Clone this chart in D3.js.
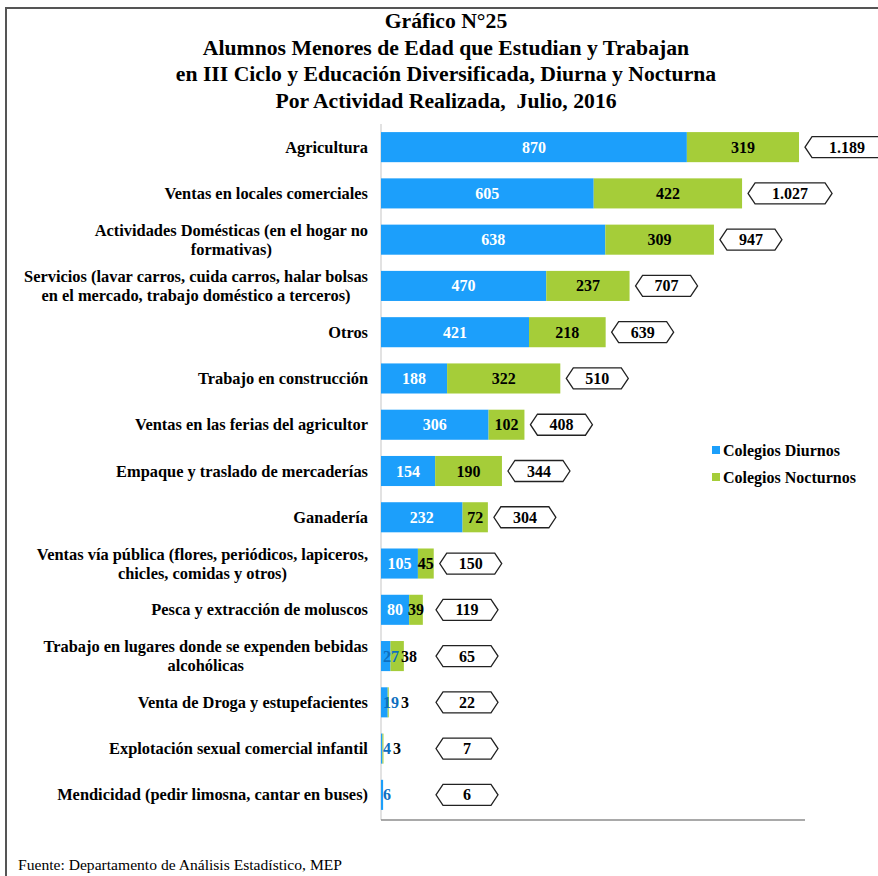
<!DOCTYPE html>
<html><head><meta charset="utf-8">
<script src="https://cdn.jsdelivr.net/npm/d3@7"></script>
<style>
html,body{margin:0;padding:0;background:#fff;}
svg{display:block;}
text{font-family:"Liberation Serif","Times New Roman",serif;}
</style></head>
<body>
<svg id="chart" width="878" height="876"></svg>
<script>
const titleLines = [
  "Gráfico N°25",
  "Alumnos Menores de Edad que Estudian y Trabajan",
  "en III Ciclo y Educación Diversificada, Diurna y Nocturna",
  "Por Actividad Realizada,  Julio, 2016"
];
const categories = [
  "Agricultura",
  "Ventas en locales comerciales",
  "Actividades Domésticas (en el hogar no\nformativas)",
  "Servicios (lavar carros, cuida carros, halar bolsas\nen el mercado, trabajo doméstico a terceros)",
  "Otros",
  "Trabajo en construcción",
  "Ventas en las ferias del agricultor",
  "Empaque y traslado de mercaderías",
  "Ganadería",
  "Ventas vía pública (flores, periódicos, lapiceros,\nchicles, comidas y otros)",
  "Pesca y extracción de moluscos",
  "Trabajo en lugares donde se expenden bebidas\nalcohólicas",
  "Venta de Droga y estupefacientes",
  "Explotación sexual comercial infantil",
  "Mendicidad (pedir limosna, cantar en buses)"
];
const diurnos   = [870, 605, 638, 470, 421, 188, 306, 154, 232, 105, 80, 27, 19, 4, 6];
const nocturnos = [319, 422, 309, 237, 218, 322, 102, 190, 72, 45, 39, 38, 3, 3, 0];
const totals    = [1189, 1027, 947, 707, 639, 510, 408, 344, 304, 150, 119, 65, 22, 7, 6];
const seriesNames = ["Colegios Diurnos", "Colegios Nocturnos"];
const seriesColors = ["#1C9FFB", "#A5CD39"];
const sourceNote = "Fuente: Departamento de Análisis Estadístico, MEP";

const fmt = d3.formatLocale({decimal: ",", thousands: ".", grouping: [3], currency: ["", ""]}).format(",d");

const svg = d3.select("#chart");

// frame
svg.append("rect").attr("x", 6).attr("y", 8).attr("width", 900).attr("height", 900)
  .attr("fill", "#fff").attr("stroke", "#555").attr("stroke-width", 2);

// title
svg.append("g").selectAll("text").data(titleLines).join("text")
  .attr("x", 446).attr("y", (d, i) => 28 + i * 26.6)
  .attr("text-anchor", "middle").attr("font-size", 21.7).attr("font-weight", "bold")
  .attr("fill", "#000").attr("xml:space", "preserve").style("white-space", "pre").text(d => d);

const x = d3.scaleLinear().domain([0, 1206]).range([381, 805]);
const y = d3.scaleBand().domain(categories).range([124, 818]).paddingInner(0.35).paddingOuter(0.175);

// axes lines
svg.append("line").attr("x1", x(0)).attr("x2", x(0)).attr("y1", 124).attr("y2", 820)
  .attr("stroke", "#d9d9d9").attr("stroke-width", 1.5);
svg.append("line").attr("x1", x(0)).attr("x2", x.range()[1]).attr("y1", 820).attr("y2", 820)
  .attr("stroke", "#8c8c8c").attr("stroke-width", 1.5);

const rows = categories.map((c, i) => ({cat: c, d: diurnos[i], n: nocturnos[i], t: totals[i]}));

const g = svg.append("g");
// bars
g.selectAll("rect.d").data(rows).join("rect").attr("class", "d")
  .attr("x", x(0)).attr("y", r => y(r.cat)).attr("height", y.bandwidth())
  .attr("width", r => x(r.d) - x(0)).attr("fill", seriesColors[0]);
g.selectAll("rect.n").data(rows).join("rect").attr("class", "n")
  .attr("x", r => x(r.d)).attr("y", r => y(r.cat)).attr("height", y.bandwidth())
  .attr("width", r => x(r.d + r.n) - x(r.d)).attr("fill", seriesColors[1]);

// segment labels
const labelSize = 16;
rows.forEach(r => {
  const cy = y(r.cat) + y.bandwidth() / 2 + 5.5;
  const tD = g.append("text").attr("font-size", labelSize).attr("font-weight", "bold")
    .attr("text-anchor", "middle").text(fmt(r.d));
  const wD = tD.node().getComputedTextLength();
  const segD0 = x(0), segD1 = x(r.d);
  let cxD = Math.max((segD0 + segD1) / 2, segD0 + wD / 2 + 2);
  tD.attr("x", cxD).attr("y", cy).attr("fill", (segD1 - segD0) >= wD ? "#fff" : "#0e6fc0");
  if (r.n > 0) {
    const tN = g.append("text").attr("font-size", labelSize).attr("font-weight", "bold")
      .attr("text-anchor", "middle").attr("fill", "#000").text(fmt(r.n));
    const wN = tN.node().getComputedTextLength();
    let cxN = Math.max((x(r.d) + x(r.d + r.n)) / 2, cxD + wD / 2 + 2 + wN / 2);
    tN.attr("x", cxN).attr("y", cy);
  }
});

// total callouts
rows.forEach(r => {
  const cyM = y(r.cat) + y.bandwidth() / 2;
  const t = g.append("text").attr("font-size", labelSize).attr("font-weight", "bold")
    .attr("text-anchor", "middle").attr("fill", "#000").text(fmt(r.t));
  const w = t.node().getComputedTextLength();
  const bw = Math.max(62, 2 * w + 12), h = 21, inset = 7;
  const left = Math.max(x(r.t) + 6, 436);
  const pts = [[left, cyM], [left + inset, cyM - h / 2], [left + bw - inset, cyM - h / 2],
               [left + bw, cyM], [left + bw - inset, cyM + h / 2], [left + inset, cyM + h / 2]];
  g.insert("polygon", () => t.node()).attr("points", pts.map(p => p.join(",")).join(" "))
    .attr("fill", "#fff").attr("stroke", "#222").attr("stroke-width", 1.3);
  t.attr("x", left + bw / 2).attr("y", cyM + 5.5);
});

// category labels
const catG = svg.append("g");
categories.forEach(c => {
  const lines = c.split("\n");
  const lh = 19;
  const cy = y(c) + y.bandwidth() / 2;
  const t = catG.append("text").attr("font-size", 16.4).attr("font-weight", "bold").attr("fill", "#000")
    .attr("text-anchor", "middle");
  lines.forEach((l, i) => {
    t.append("tspan").attr("x", 0).attr("y", cy + 5.5 + (i - (lines.length - 1) / 2) * lh).text(l);
  });
  const w = t.node().getBBox().width;
  t.selectAll("tspan").attr("x", 368 - w / 2);
});

// legend
const leg = svg.append("g");
seriesNames.forEach((s, i) => {
  const ly = 450 + i * 27;
  leg.append("rect").attr("x", 712).attr("y", ly - 4).attr("width", 8).attr("height", 8).attr("fill", seriesColors[i]);
  leg.append("text").attr("x", 723).attr("y", ly + 5.5).attr("font-size", 16).attr("font-weight", "bold")
    .attr("fill", "#000").text(s);
});

// source
svg.append("text").attr("x", 18).attr("y", 870).attr("font-size", 15.6).attr("fill", "#000").text(sourceNote);
</script>
</body></html>
